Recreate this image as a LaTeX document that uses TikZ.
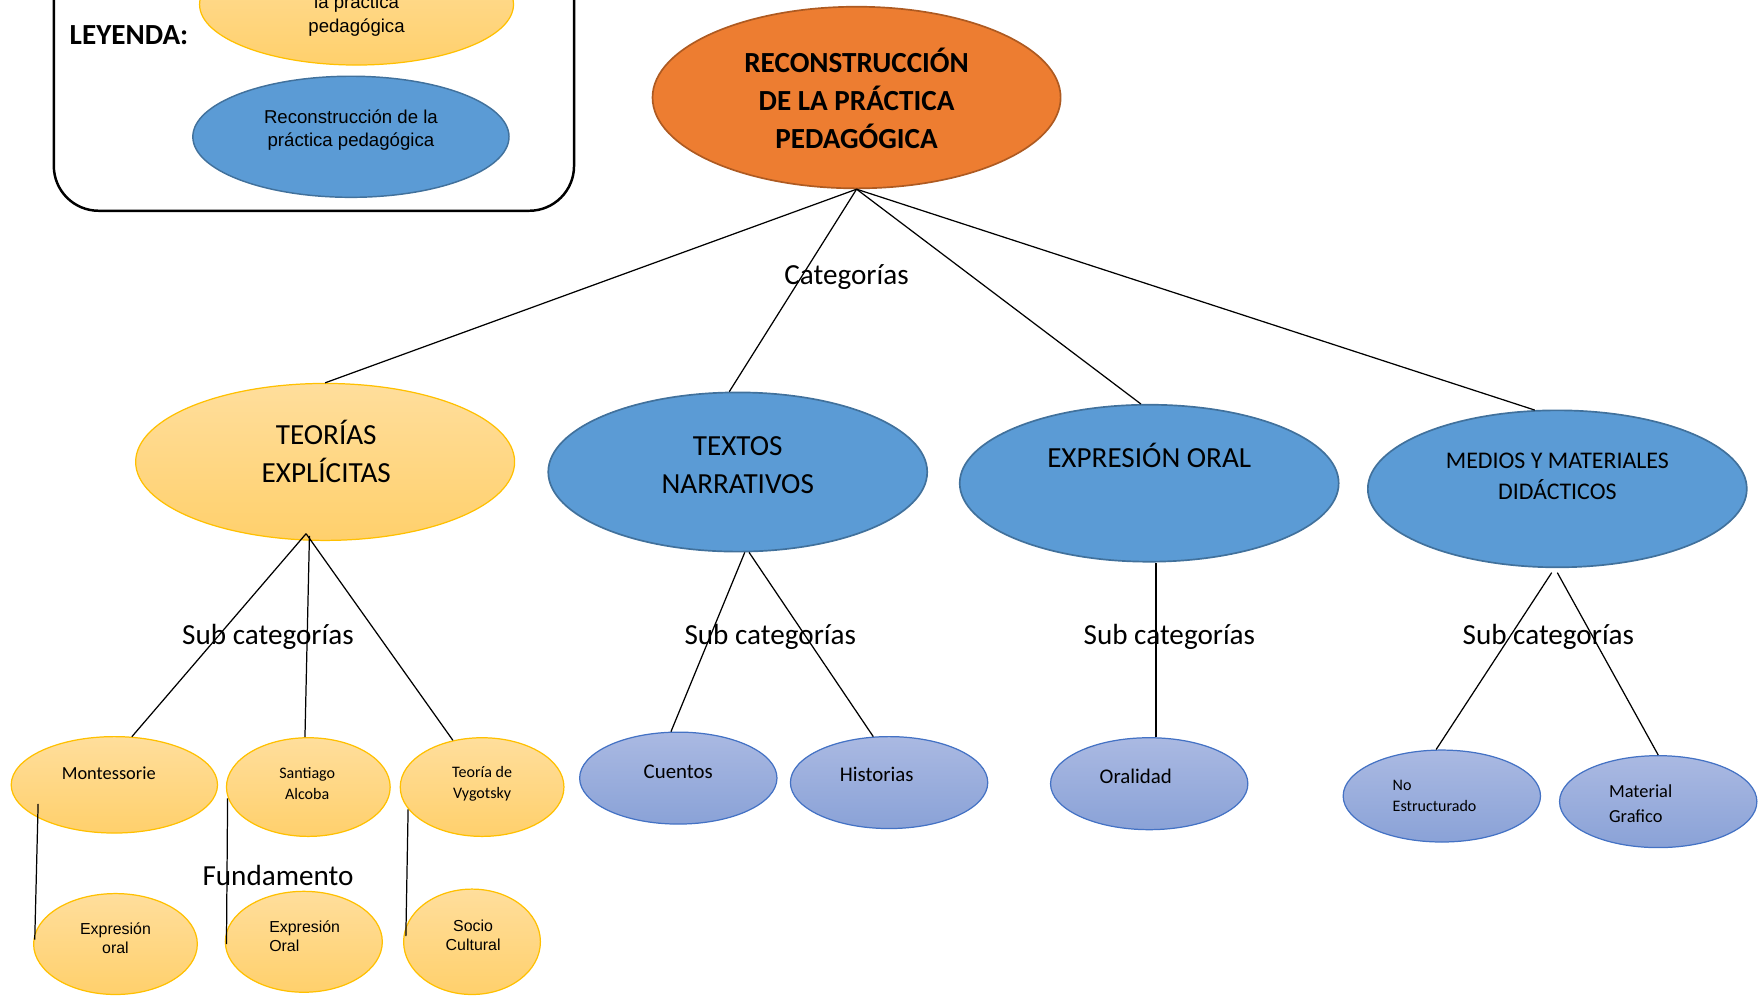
\documentclass[tikz,border=0pt]{standalone}
\usepackage{fontspec}
\setmainfont{Carlito}
\newfontfamily\arialf{Liberation Sans}
\usetikzlibrary{shapes.geometric,calc}
\definecolor{orF}{HTML}{ED7D31}
\definecolor{orD}{HTML}{AE5A21}
\definecolor{blF}{HTML}{5B9BD5}
\definecolor{blD}{HTML}{41719C}
\definecolor{ylT}{HTML}{FFDE9C}
\definecolor{ylB}{HTML}{FFD06C}
\definecolor{ylD}{HTML}{FFC000}
\definecolor{sbT}{HTML}{AAB9E2}
\definecolor{sbB}{HTML}{8AA2D7}
\definecolor{sbD}{HTML}{4472C4}
\begin{document}
\begin{tikzpicture}[x=1pt,y=-1pt,
  ellbase/.style={ellipse, inner sep=0pt, line width=1.1pt},
  yel/.style={ellbase, draw=ylD, top color=ylT, bottom color=ylB},
  blu/.style={ellbase, draw=blD, fill=blF, line width=1.5pt},
  sblu/.style={ellbase, draw=sbD, top color=sbT, bottom color=sbB},
  org/.style={ellbase, draw=orD, fill=orF, line width=1.5pt},
  lnk/.style={draw=black, line width=1.1pt},
  txtbase/.style={inner sep=0pt, align=center},
  tbig/.style={txtbase, font=\fontsize{26}{34}\selectfont},
  tbigb/.style={txtbase, font=\fontsize{26}{34}\selectfont\bfseries},
  tmedium/.style={txtbase, font=\fontsize{21.3}{28}\selectfont},
  tarial/.style={txtbase, font=\arialf\fontsize{16.6}{21}\selectfont},
  tarials/.style={txtbase, font=\arialf\fontsize{14.2}{17}\selectfont},
  tcals/.style={txtbase, font=\fontsize{14.3}{19}\selectfont},
  tcalm/.style={txtbase, font=\fontsize{16.4}{22}\selectfont},
  tcall/.style={txtbase, font=\fontsize{18.6}{22}\selectfont}
]
\useasboundingbox (0,0) rectangle (1568,893);
\clip (0,0) rectangle (1568,893);
% legend
\draw[line width=2.2pt, rounded corners=40pt] (48,-60) rectangle (512,188);
\node[anchor=west, inner sep=0pt, font=\fontsize{26}{30}\selectfont\bfseries] (ley) at (62,31) {LEYENDA:};
\node[yel, minimum width=280, minimum height=108] (ly) at (318,4) {};
\node[tarial] (lyt) at (318,14) {la práctica\\pedagógica};
\node[blu, line width=1.3pt, minimum width=282, minimum height=108] (lb) at (313,122) {};
\node[tarial] (lbt) at (313,116) {Reconstrucción de la\\práctica pedagógica};
% title
\node[org, minimum width=364, minimum height=162] (tit) at (764,87) {};
\node[tbigb] (titt) at (764,88) {RECONSTRUCCIÓN\\DE LA PRÁCTICA\\PEDAGÓGICA};
\node[tbig] (cat) at (755,247) {Categorías};
% level 1
\node[yel, minimum width=338, minimum height=140] (teo) at (290,412) {};
\node[tbig] (teot) at (291,403) {TEORÍAS\\EXPLÍCITAS};
\node[blu, minimum width=338, minimum height=142] (tex) at (658,421) {};
\node[tbig] (text) at (658,415) {TEXTOS\\NARRATIVOS};
\node[blu, minimum width=338, minimum height=140] (exp) at (1025,431) {};
\node[tbig] (expt) at (1025,406) {EXPRESIÓN ORAL};
\node[blu, minimum width=338, minimum height=140] (med) at (1389,436) {};
\node[tmedium] (medt) at (1389,425) {MEDIOS Y MATERIALES\\DIDÁCTICOS};
% sub labels
\node[tbig] (s1) at (239,568) {Sub categorías};
\node[tbig] (s2) at (687,568) {Sub categorías};
\node[tbig] (s3) at (1043,568) {Sub categorías};
\node[tbig] (s4) at (1381,568) {Sub categorías};
% level 2 yellow
\node[yel, minimum width=184, minimum height=86] (mont) at (102,700) {};
\node[tcalm] (montt) at (97,690) {Montessorie};
\node[yel, minimum width=146, minimum height=88] (san) at (275,702) {};
\node[tcals] (sant) at (274,699) {Santiago\\Alcoba};
\node[yel, minimum width=146, minimum height=88] (vyg) at (430,702) {};
\node[tcals] (vygt) at (430,699) {Teoría de\\Vygotsky};
\node[tbig] (fun) at (248,781) {Fundamento};
\node[yel, minimum width=146, minimum height=90] (eo) at (103,842) {};
\node[tarials] (eot) at (103,837) {Expresión\\oral};
\node[yel, minimum width=140, minimum height=90] (eO) at (271,840) {};
\node[tarials, align=left, anchor=west] (eOt) at (240,835) {Expresión\\Oral};
\node[yel, minimum width=122, minimum height=94] (so) at (421,840) {};
\node[tarials] (sot) at (422,834) {Socio\\Cultural};
% level 2 blue
\node[sblu, minimum width=176, minimum height=82] (cue) at (605,694) {};
\node[tcall] (cuet) at (605,688) {Cuentos};
\node[sblu, minimum width=176, minimum height=82] (his) at (793,698) {};
\node[tcall] (hist) at (782,691) {Historias};
\node[sblu, minimum width=176, minimum height=82] (ora) at (1025,699) {};
\node[tcall] (orat) at (1013,692) {Oralidad};
\node[sblu, minimum width=176, minimum height=82] (noe) at (1286,710) {};
\node[tcals, align=left, anchor=west] (noet) at (1242,710) {No\\Estructurado};
\node[sblu, minimum width=176, minimum height=82] (mat) at (1479,715) {};
\node[tcalm, align=left, anchor=west] (matt) at (1435,717) {Material\\Grafico};
% connectors
\draw[lnk] (tit.south) -- (teo.north);
\draw[lnk] (tit.south) -- (tex.96);
\draw[lnk] (tit.south) -- (exp.96);
\draw[lnk] (tit.south) -- (med.106);
\coordinate (teoB) at ($(teo.center)+(-17,64)$);
\draw[lnk] (teoB) -- (mont.70);
\draw[lnk] ($(teo.center)+(-14,66)$) -- ($(san.north)+(-3,0)$);
\draw[lnk] (teoB) -- (vyg.122);
\draw[lnk] (tex.-85) -- (cue.99);
\draw[lnk] (tex.-82) -- (his.109);
\draw[lnk] ($(exp.south)+(6,0)$) -- ($(ora.north)+(6,0)$);
\draw[lnk] ($(med.south)+(-5,4)$) -- (noe.97);
\draw[lnk] ($(med.south)+(0,4)$) -- (mat.north);
\draw[lnk] ($(mont.center)+(-68,17)$) -- ($(eo.center)+(-72,-4)$);
\draw[lnk] ($(san.center)+(-72,10)$) -- ($(eO.center)+(-69,2)$);
\draw[lnk] ($(vyg.center)+(-66,20)$) -- ($(so.center)+(-59,-5)$);
\end{tikzpicture}
\end{document}
